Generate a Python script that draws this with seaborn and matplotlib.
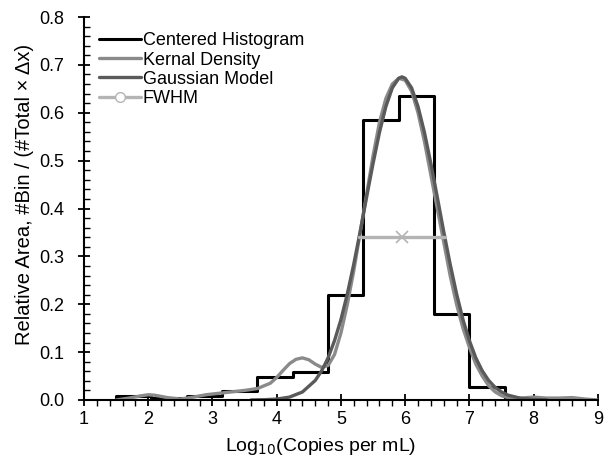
import numpy as np
import pandas as pd
import matplotlib
matplotlib.use("Agg")
import matplotlib.pyplot as plt
import seaborn as sns
from matplotlib.lines import Line2D
from matplotlib.ticker import MultipleLocator, FormatStrFormatter

# Histogram (bin centers and heights)
hist_centers = [1.775, 2.325, 2.875, 3.425, 3.975, 4.525, 5.075, 5.625, 6.175, 6.725, 7.275]
hist_heights = [0.009, 0.004, 0.008, 0.019, 0.049, 0.058, 0.220, 0.585, 0.634, 0.180, 0.028]
hist_edges = [1.5, 2.05, 2.6, 3.15, 3.7, 4.25, 4.8, 5.35, 5.9, 6.45, 7.0, 7.55]

# Kernel density
kde_x = [1.5, 1.7, 1.9, 2.0, 2.1, 2.3, 2.5, 2.7, 2.9, 3.1, 3.3, 3.5, 3.7, 3.9, 4.0,
         4.1, 4.2, 4.3, 4.4, 4.5, 4.6, 4.7, 4.8, 4.9, 5.0, 5.1, 5.2, 5.3, 5.4, 5.5,
         5.6, 5.7, 5.8, 5.9, 6.0, 6.1, 6.2, 6.3, 6.4, 6.5, 6.6, 6.7, 6.8, 6.9, 7.0,
         7.1, 7.2, 7.3, 7.4, 7.5, 7.6, 7.8, 8.0, 8.2, 8.4, 8.6, 8.8, 9.0]
kde_y = [0.0, 0.004, 0.009, 0.011, 0.010, 0.005, 0.002, 0.006, 0.011, 0.014, 0.017, 0.020, 0.024, 0.035, 0.047,
         0.062, 0.076, 0.085, 0.088, 0.084, 0.075, 0.068, 0.072, 0.095, 0.140, 0.200, 0.270, 0.350, 0.430, 0.510,
         0.580, 0.630, 0.660, 0.672, 0.668, 0.645, 0.600, 0.540, 0.470, 0.400, 0.330, 0.260, 0.200, 0.150, 0.110,
         0.075, 0.050, 0.030, 0.017, 0.009, 0.005, 0.004, 0.006, 0.004, 0.004, 0.005, 0.002, 0.0]

# Gaussian model
gauss_x = [3.6, 3.8, 4.0, 4.2, 4.4, 4.6, 4.7, 4.8, 4.9, 5.0, 5.1, 5.2, 5.3, 5.4, 5.5,
           5.6, 5.7, 5.8, 5.9, 5.95, 6.0, 6.1, 6.2, 6.3, 6.4, 6.5, 6.6, 6.7, 6.8, 6.9,
           7.0, 7.1, 7.2, 7.3, 7.4, 7.5, 7.6, 7.8, 8.0, 8.2]
gauss_y = [0.0001, 0.0006, 0.0019, 0.0061, 0.0167, 0.0408, 0.061, 0.088, 0.124, 0.168, 0.222, 0.284, 0.352, 0.424, 0.494,
           0.559, 0.613, 0.652, 0.672, 0.675, 0.672, 0.652, 0.613, 0.559, 0.494, 0.424, 0.352, 0.284, 0.222, 0.168,
           0.124, 0.088, 0.061, 0.0408, 0.0265, 0.0167, 0.0102, 0.0035, 0.0011, 0.0003]

# FWHM
fwhm_x = [5.28, 5.95, 6.62]
fwhm_y = [0.34, 0.34, 0.34]

sns.set_style("white")
plt.rcParams['font.family'] = ['Liberation Sans', 'DejaVu Sans']
plt.rcParams['text.color'] = 'black'
plt.rcParams['axes.labelcolor'] = 'black'

fig = plt.figure(figsize=(6.11, 4.62), dpi=100)
ax = fig.add_axes([0.1375, 0.1342, 0.841, 0.829])

sns.histplot(x=hist_centers, weights=hist_heights, bins=hist_edges, element="step",
             fill=False, color="black", linewidth=2.2, ax=ax, stat="count")
# closing verticals at the two outer edges of the histogram
ax.vlines([hist_edges[0], hist_edges[-1]], 0, [hist_heights[0], hist_heights[-1]],
          color="black", linewidth=2.2)
sns.lineplot(x=kde_x, y=kde_y, color="#8a8a8a", linewidth=2.4, ax=ax)
sns.lineplot(x=gauss_x, y=gauss_y, color="#5a5a5a", linewidth=2.4, ax=ax)
ax.plot(fwhm_x, fwhm_y, color="#b4b4b4", linewidth=2.4, marker="x", markersize=9,
        markevery=[1], markeredgewidth=1.2, markeredgecolor="#b4b4b4")

ax.set_xlim(1, 9)
ax.set_ylim(0, 0.8)
ax.xaxis.set_major_locator(MultipleLocator(1))
ax.xaxis.set_minor_locator(MultipleLocator(0.2))
ax.yaxis.set_major_locator(MultipleLocator(0.1))
ax.yaxis.set_minor_locator(MultipleLocator(0.02))
ax.yaxis.set_major_formatter(FormatStrFormatter('%.1f'))
for s in ['top', 'right']:
    ax.spines[s].set_visible(False)
for s in ['left', 'bottom']:
    ax.spines[s].set_color('black')
    ax.spines[s].set_linewidth(1.5)
ax.tick_params(which='major', direction='inout', length=8, width=1.3, labelsize=13, colors='black')
ax.tick_params(axis='y', which='major', pad=10)
ax.tick_params(axis='x', which='major', pad=4)
ax.tick_params(axis='x', which='minor', direction='out', length=4, width=1.0, colors='black')
ax.tick_params(axis='y', which='minor', direction='in', length=4, width=1.0, colors='black')
ax.tick_params(axis='both', which='both', bottom=True, left=True)

ax.set_xlabel("Log$_{10}$(Copies per mL)", fontsize=14)
ax.xaxis.set_label_coords(0.461, -0.095)
ax.set_ylabel("Relative Area, #Bin / (#Total × Δx)", fontsize=14.5)
ax.yaxis.set_label_coords(-0.097, 0.538)

handles = [
    Line2D([], [], color="black", linewidth=2.2),
    Line2D([], [], color="#8a8a8a", linewidth=2.4),
    Line2D([], [], color="#5a5a5a", linewidth=2.4),
    Line2D([], [], color="#b4b4b4", linewidth=2.4, marker="o", markerfacecolor="white",
           markeredgecolor="#b4b4b4", markersize=7),
]
labels = ["Centered Histogram", "Kernal Density", "Gaussian Model", "FWHM"]
ax.legend(handles, labels, loc="upper left", bbox_to_anchor=(0.0, 1.0), frameon=False,
          fontsize=13, handlelength=2.3, handletextpad=0.1, labelspacing=0.12, borderaxespad=0.45)

fig.savefig("out.png", dpi=100)
